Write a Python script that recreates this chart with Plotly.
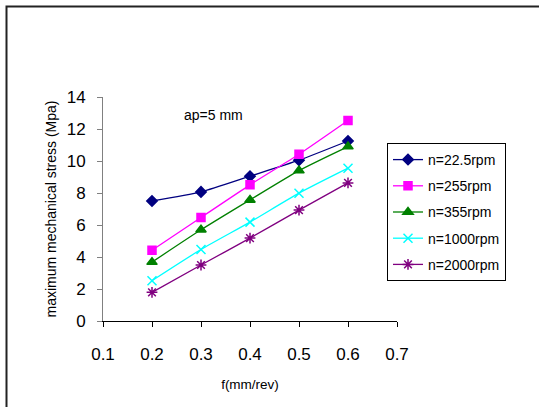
import plotly.graph_objects as go

feed = [0.2, 0.3, 0.4, 0.5, 0.6]
names = ["n=22.5rpm", "n=255rpm", "n=355rpm", "n=1000rpm", "n=2000rpm"]
s_225 = [7.5, 8.07, 9.05, 10.05, 11.25]
s_255 = [4.42, 6.47, 8.51, 10.42, 12.53]
s_355 = [3.68, 5.7, 7.57, 9.4, 10.9]
s_1000 = [2.52, 4.47, 6.18, 7.99, 9.55]
s_2000 = [1.79, 3.5, 5.18, 6.93, 8.63]
series = [s_225, s_255, s_355, s_1000, s_2000]
x_ticks = [0.1, 0.2, 0.3, 0.4, 0.5, 0.6, 0.7]
y_ticks = [0, 2, 4, 6, 8, 10, 12, 14]

colors = ["#000080", "#FF00FF", "#008000", "#00FFFF", "#800080"]
symbols = ["diamond", "square", "triangle-up", "x-thin-open", "asterisk-open"]
sizes = [8, 8, 9, 9, 9]

fig = go.Figure()
for i, (nm, ys) in enumerate(zip(names, series)):
    fig.add_trace(go.Scatter(
        x=feed, y=ys, name=nm, mode="lines+markers", legendgroup=nm,
        line=dict(color=colors[i], width=1.3, shape="spline", smoothing=0.6),
        marker=dict(symbol=symbols[i], size=sizes[i], color=colors[i],
                    line=dict(color=colors[i], width=1.5)),
    ))

L, R, T, B = 103, 397, 97, 321
W, H = 539, 407
pw, ph = R - L, B - T

def px(xp):
    return (xp - L) / pw

def py(yp):
    return (B - yp) / ph

# chart-area frame (only its left and top edges fall inside the picture)
fig.add_shape(type="rect", xref="paper", yref="paper", layer="above",
              x0=px(6.5), x1=px(W + 20), y0=py(6.5), y1=py(H + 20),
              line=dict(color="#222222", width=2), fillcolor="rgba(0,0,0,0)")

fig.add_annotation(text="ap=5 mm", x=px(213), y=py(105), xref="paper", yref="paper",
                   showarrow=False, font=dict(size=14, color="black"))

fig.update_layout(
    width=W, height=H,
    margin=dict(l=L, r=W - R, t=T, b=H - B),
    plot_bgcolor="white", paper_bgcolor="white",
    font=dict(family="Liberation Sans, Arial, sans-serif", color="black"),
    showlegend=True,
    legend=dict(x=px(387), y=py(143), xanchor="left", yanchor="top",
                bordercolor="black", borderwidth=1, bgcolor="white",
                font=dict(size=14), tracegroupgap=5, itemwidth=30),
    xaxis=dict(range=[0.1, 0.7], tickvals=x_ticks, ticktext=[str(v) for v in x_ticks],
               showgrid=False, zeroline=False, showline=True, linecolor="black", linewidth=1,
               ticks="outside", ticklen=5, tickcolor="black", tickfont=dict(size=17),
               ticklabelstandoff=13,
               title=dict(text="f(mm/rev)", font=dict(size=13.5), standoff=16)),
    yaxis=dict(range=[0, 14], tickvals=y_ticks, showgrid=False, zeroline=False,
               showline=True, linecolor="#808080", linewidth=1,
               ticks="outside", ticklen=5, tickcolor="#808080", tickfont=dict(size=17),
               ticklabelstandoff=8,
               title=dict(text="maximum mechanical stress (Mpa)", font=dict(size=14), standoff=6)),
)

fig.write_html("out.html", config={"displayModeBar": False},
               post_script="document.body.style.margin='0';document.documentElement.style.overflow='hidden';window.scrollTo(0,0);")
